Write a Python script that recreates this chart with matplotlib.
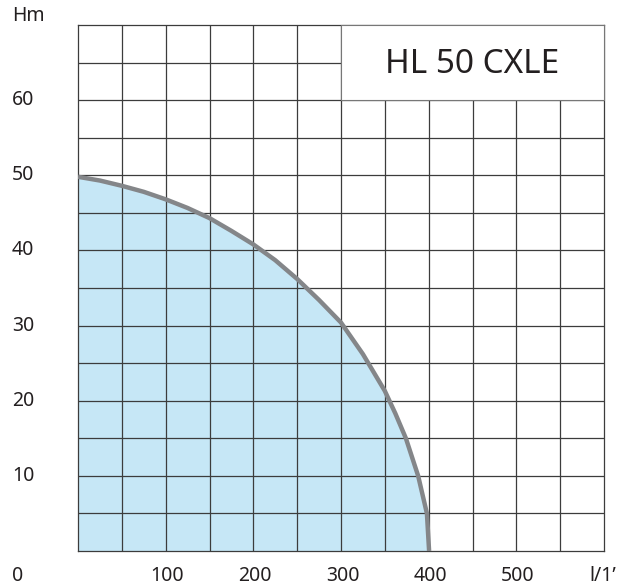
import matplotlib.pyplot as plt
from matplotlib.patches import Rectangle

plt.rcParams['font.family'] = ['Noto Sans', 'DejaVu Sans']

# curve: flow (l/min) vs head (m)
Q = [0, 25, 50, 75, 100, 125, 150, 175, 200, 225, 250, 275, 300, 325, 350, 362, 374, 388, 398, 400.5]
H = [49.8, 49.3, 48.6, 47.8, 46.8, 45.65, 44.3, 42.6, 40.8, 38.7, 36.2, 33.4, 30.4, 26.2, 21.3, 18.3, 15, 10, 5, 0]

x_labels = [0, 100, 200, 300, 400, 500]
y_labels = [10, 20, 30, 40, 50, 60]
title = 'HL 50 CXLE'

grid_col = '#3c3c3c'

fig = plt.figure(figsize=(6.17, 5.85), dpi=100)
ax = fig.add_axes([78/617, 34/585, 526/617, 526/585])
ax.set_xlim(0, 600)
ax.set_ylim(0, 70)

for gx in range(50, 600, 50):
    ax.axvline(gx, color=grid_col, lw=0.9, zorder=2)
for gy in range(5, 70, 5):
    ax.axhline(gy, color=grid_col, lw=0.9, zorder=2)
for s in ax.spines.values():
    s.set_color(grid_col)
    s.set_linewidth(0.9)
ax.set_xticks([])
ax.set_yticks([])

ax.fill_between(Q, H, 0, color='#c6e7f6', lw=0, zorder=1)
ax.plot(Q, H, color='#848689', lw=3.2, solid_capstyle='butt', solid_joinstyle='round', zorder=3)

# title box in the top right corner
ax.add_patch(Rectangle((300, 60), 300, 10, facecolor='white', edgecolor='#777777',
                       lw=0.8, zorder=4, clip_on=False))
ax.text(450, 64.8, title, ha='center', va='center', fontsize=24, color='#231f20', zorder=5)

# axis labels placed as on the catalogue sheet
for v in y_labels:
    ax.text(-75.5, v, str(v), ha='left', va='center', fontsize=14, color='#231f20', clip_on=False)
ax.text(-75.5, 71.2, 'Hm', ha='left', va='center', fontsize=14, color='#231f20', clip_on=False)
for v in x_labels:
    xx = -68.5 if v == 0 else v + 2
    ax.text(xx, -3.3, str(v), ha='center', va='center', fontsize=14, color='#231f20', clip_on=False)
ax.text(583, -3.3, 'l/1’', ha='left', va='center', fontsize=14, color='#231f20', clip_on=False)

plt.savefig('out.png', dpi=100)
